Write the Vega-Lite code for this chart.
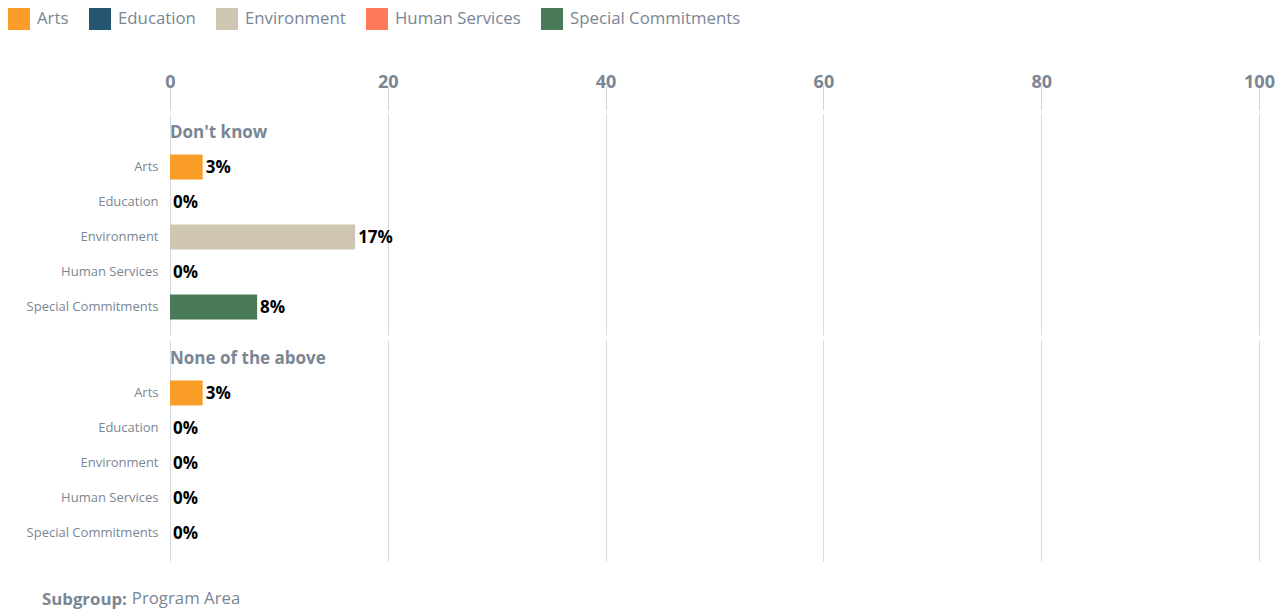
{
  "$schema": "https://vega.github.io/schema/vega-lite/v6.json",
  "padding": {"left": 8, "top": 8, "right": 14, "bottom": 8},
  "background": "white",
  "config": {
    "font": "Open Sans",
    "view": {"stroke": null}
  },
  "data": {
    "values": [
      {"group": "Don't know", "program": ""},
      {"group": "Don't know", "program": "Arts", "value": 0.03},
      {"group": "Don't know", "program": "Education", "value": 0},
      {"group": "Don't know", "program": "Environment", "value": 0.17},
      {"group": "Don't know", "program": "Human Services", "value": 0},
      {"group": "Don't know", "program": "Special Commitments", "value": 0.08},
      {"group": "None of the above", "program": ""},
      {"group": "None of the above", "program": "Arts", "value": 0.03},
      {"group": "None of the above", "program": "Education", "value": 0},
      {"group": "None of the above", "program": "Environment", "value": 0},
      {"group": "None of the above", "program": "Human Services", "value": 0},
      {"group": "None of the above", "program": "Special Commitments", "value": 0}
    ]
  },
  "facet": {
    "row": {"field": "group", "type": "nominal", "sort": ["Don't know", "None of the above"], "header": null}
  },
  "spacing": {"row": 3},
  "spec": {
    "width": 1089,
    "height": 221,
    "encoding": {
      "y": {
        "field": "program",
        "type": "nominal",
        "scale": {
          "domain": ["", "Arts", "Education", "Environment", "Human Services", "Special Commitments"],
          "paddingInner": 0.286,
          "paddingOuter": 0.3,
          "align": 0.26
        },
        "axis": {
          "title": null,
          "ticks": false,
          "tickSize": 0,
          "domain": false,
          "grid": false,
          "labelPadding": 12,
          "labelFontSize": 13,
          "labelColor": "#7a8694",
          "labelFont": "Open Sans"
        }
      }
    },
    "layer": [
      {
        "transform": [{"filter": "datum.program !== ''"}],
        "mark": {"type": "bar"},
        "encoding": {
          "x": {
            "field": "value",
            "type": "quantitative",
            "scale": {"domain": [0, 1], "nice": false},
            "axis": {
              "orient": "top",
              "title": null,
              "values": [0, 0.2, 0.4, 0.6, 0.8, 1],
              "labelExpr": "round(datum.value * 100)",
              "labelFlush": false,
              "domain": false,
              "tickSize": 24,
              "tickColor": "#cdd3da",
              "offset": 2,
              "labelPadding": -5,
              "labelFontSize": 18,
              "labelFontWeight": "bold",
              "labelColor": "#7a8694",
              "labelFont": "Open Sans",
              "grid": true,
              "gridColor": "#d5dbe1"
            }
          },
          "color": {
            "field": "program",
            "type": "nominal",
            "scale": {
              "domain": ["Arts", "Education", "Environment", "Human Services", "Special Commitments"],
              "range": ["#f99d28", "#24566f", "#cec6b0", "#ff7a5a", "#4a7b58"]
            },
            "legend": {
              "title": null,
              "orient": "none",
              "direction": "horizontal",
              "legendX": -162,
              "legendY": -106,
              "symbolType": "square",
              "symbolSize": 484,
              "symbolStrokeWidth": 0,
              "labelOffset": 7,
              "columnPadding": 20,
              "labelFontSize": 16.8,
              "labelLimit": 400,
              "labelColor": "#7a8694",
              "labelFont": "Open Sans"
            }
          }
        }
      },
      {
        "transform": [{"filter": "datum.program !== ''"}],
        "mark": {"type": "text", "align": "left", "baseline": "middle", "dx": 3, "dy": 1, "fontWeight": "bold", "fontSize": 17, "color": "#000000", "font": "Open Sans"},
        "encoding": {
          "x": {"field": "value", "type": "quantitative"},
          "text": {"field": "value", "type": "quantitative", "format": ".0%"}
        }
      },
      {
        "transform": [{"filter": "datum.program === ''"}],
        "mark": {"type": "text", "align": "left", "baseline": "middle", "dy": 1, "fontWeight": "bold", "fontSize": 17, "color": "#7a8694", "font": "Open Sans"},
        "encoding": {
          "x": {"datum": 0, "type": "quantitative"},
          "text": {"field": "group", "type": "nominal"},
          "opacity": {
            "datum": "Program Area",
            "type": "nominal",
            "scale": {"range": [1]},
            "legend": {
              "orient": "none",
              "legendX": -128,
              "legendY": 477,
              "title": "Subgroup:",
              "titleOrient": "left",
              "titleFontSize": 16.8,
              "titleFontWeight": "bold",
              "titleColor": "#7a8694",
              "titleFont": "Open Sans",
              "titlePadding": -12,
              "labelFontSize": 16.8,
              "labelColor": "#7a8694",
              "labelFont": "Open Sans",
              "symbolOpacity": 0,
              "symbolSize": 0,
              "labelOffset": 0
            }
          }
        }
      }
    ]
  }
}
